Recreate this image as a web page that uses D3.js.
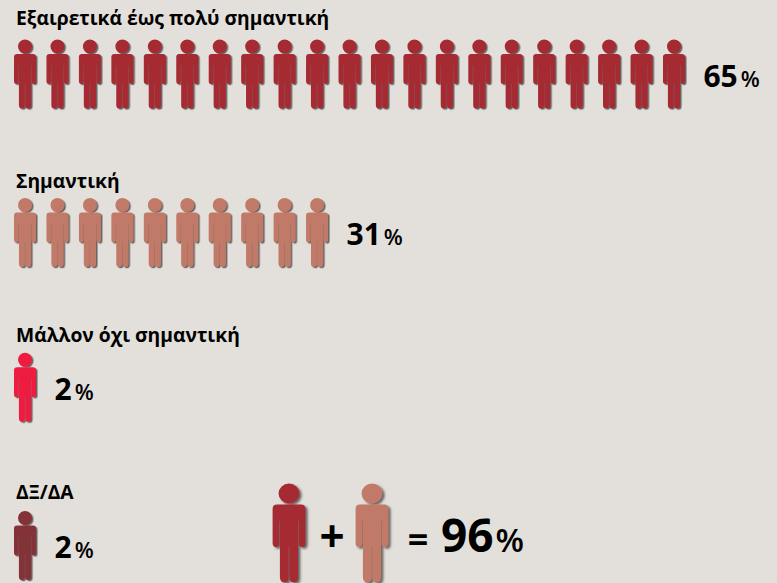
<!DOCTYPE html>
<html>
<head>
<meta charset="utf-8">
<script src="https://cdn.jsdelivr.net/npm/d3@7"></script>
<style>
  html, body { margin: 0; padding: 0; background: #e3dfda; }
  svg { display: block; }
  text { font-family: "Open Sans", "Noto Sans", sans-serif; fill: #000; }
  .label { font-size: 19.3px; font-weight: 700; }
</style>
</head>
<body>
<div id="chart"></div>
<script>
const categories = ["Εξαιρετικά έως πολύ σημαντική", "Σημαντική", "Μάλλον όχι σημαντική", "ΔΞ/ΔΑ"];
const values = [65, 31, 2, 2];
const iconCounts = [21, 10, 1, 1];
const colors = ["#a52a33", "#c27a67", "#ee1c41", "#833037"];
const sumParts = [0, 1];
const sumValue = 96;

const width = 777, height = 583;
const svg = d3.select("#chart").append("svg").attr("width", width).attr("height", height);

const defs = svg.append("defs");
const shadow = defs.append("filter").attr("id", "shadow")
  .attr("x", "-30%").attr("y", "-20%").attr("width", "170%").attr("height", "140%");
shadow.append("feDropShadow").attr("dx", 1.5).attr("dy", 1.2).attr("stdDeviation", 0.7)
  .attr("flood-color", "#444").attr("flood-opacity", 0.8);

// the little person, 22 wide and 69 tall, origin at top centre
const personPath = (function () {
  const p = d3.path();
  p.arc(0, 7, 7, 0, Math.PI * 2);
  p.moveTo(-8, 14.6);
  p.lineTo(8, 14.6);
  p.quadraticCurveTo(11, 14.6, 11, 17.6);
  p.lineTo(11, 41.5);
  p.quadraticCurveTo(11, 44.5, 8.8, 44.5);
  p.quadraticCurveTo(6.5, 44.5, 6.5, 41.5);
  p.lineTo(6.5, 26);
  p.lineTo(6.1, 26);
  p.lineTo(6.1, 65.5);
  p.quadraticCurveTo(6.1, 69, 3.1, 69);
  p.quadraticCurveTo(0.2, 69, 0.2, 65.5);
  p.lineTo(0.2, 44);
  p.lineTo(-0.2, 44);
  p.lineTo(-0.2, 65.5);
  p.quadraticCurveTo(-0.2, 69, -3.1, 69);
  p.quadraticCurveTo(-6.1, 69, -6.1, 65.5);
  p.lineTo(-6.1, 26);
  p.lineTo(-6.5, 26);
  p.lineTo(-6.5, 41.5);
  p.quadraticCurveTo(-6.5, 44.5, -8.8, 44.5);
  p.quadraticCurveTo(-11, 44.5, -11, 41.5);
  p.lineTo(-11, 17.6);
  p.quadraticCurveTo(-11, 14.6, -8, 14.6);
  p.closePath();
  return p.toString();
})();

// one slot per icon, same pitch on every row
const slot = d3.scaleBand().domain(d3.range(d3.max(iconCounts))).range([8.8, 690.2]).padding(0);
const iconY = [39.5, 198, 352.7, 511];
const labelY = [25, 188, 342, 499];
const iconCx = i => slot(i) + slot.bandwidth() / 2;

function addPercent(g, x, y, v, bigSize, smallSize, gap) {
  const t = g.append("text").attr("x", x).attr("y", y);
  t.append("tspan").style("font-size", bigSize + "px").style("font-weight", 700).text(v);
  t.append("tspan").attr("dx", gap).style("font-size", smallSize + "px").style("font-weight", 600).text("%");
}

categories.forEach((cat, r) => {
  const row = svg.append("g").attr("class", "row");
  row.append("text").attr("class", "label").attr("x", 16).attr("y", labelY[r]).text(cat);
  row.selectAll("path")
    .data(d3.range(iconCounts[r]))
    .join("path")
    .attr("d", personPath)
    .attr("fill", colors[r])
    .attr("filter", "url(#shadow)")
    .attr("transform", i => `translate(${iconCx(i)},${iconY[r]})`);
  const lastX = iconCx(iconCounts[r] - 1);
  addPercent(row, lastX + 29.5, iconY[r] + 47, values[r], 30, 22, 3);
});

// bottom sum: red + salmon = 96%
const sum = svg.append("g").attr("class", "sum");
const sumX = d3.scalePoint().domain(sumParts).range([289, 372]);
sum.selectAll("path")
  .data(sumParts)
  .join("path")
  .attr("d", personPath)
  .attr("fill", i => colors[i])
  .attr("filter", "url(#shadow)")
  .attr("transform", i => `translate(${sumX(i)},483.5) scale(1.49,1.43)`);
sum.append("text").attr("x", 332).attr("y", 552).attr("text-anchor", "middle")
  .style("font-size", "44px").style("font-weight", 700).text("+");
sum.append("text").attr("x", 418).attr("y", 552).attr("text-anchor", "middle")
  .style("font-size", "36px").style("font-weight", 700).text("=");
addPercent(sum, 441, 552, sumValue, 46, 33, 2);
</script>
</body>
</html>
